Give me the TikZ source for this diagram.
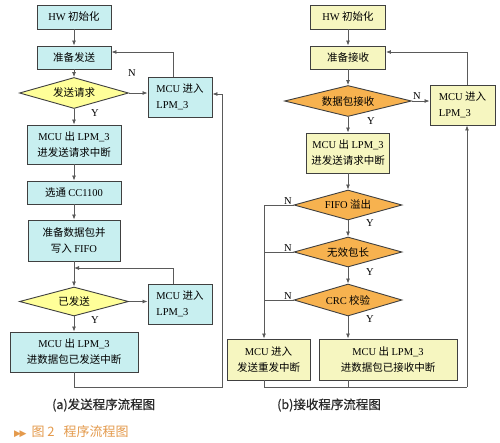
\documentclass[tikz,border=0pt]{standalone}
\usepackage{fontspec}
\setmainfont{Liberation Serif}
\newfontfamily\cjk{Noto Sans CJK SC}
\newfontfamily\cjkb[FakeBold=0.6]{Noto Sans CJK SC}
\newfontfamily\dejavu{DejaVu Sans}
\usetikzlibrary{shapes.geometric,arrows.meta}
\definecolor{cyanbox}{HTML}{C8EFF0}
\definecolor{yeldia}{HTML}{FFFF99}
\definecolor{yelbox}{HTML}{F6F6C0}
\definecolor{orgdia}{HTML}{F7B24F}
\definecolor{edgec}{HTML}{404040}
\definecolor{wirec}{HTML}{5A5A5A}
\definecolor{capor}{HTML}{E49A4C}
\definecolor{captx}{HTML}{2A2A2A}
\newcommand\en[1]{{\rmfamily #1}}
\tikzset{
  base/.style={draw=edgec, line width=0.9pt, inner sep=1pt, text=black,
    font=\cjk\fontsize{10.5}{16}\selectfont, align=center},
  boxa/.style={base, rectangle, fill=cyanbox},
  boxb/.style={base, rectangle, fill=yelbox},
  diaa/.style={base, diamond, aspect=4, inner sep=0pt, fill=yeldia},
  diab/.style={base, diamond, aspect=4, inner sep=0pt, fill=orgdia},
  wire/.style={draw=wirec, line width=0.8pt},
  arr/.style={wire, -{Latex[length=5pt,width=4pt]}},
  lab/.style={font=\rmfamily\fontsize{10.5}{12}\selectfont, inner sep=0pt, text=black},
  capt/.style={font=\cjkb\fontsize{12.5}{14}\selectfont, inner sep=0pt, text=captx},
}
\begin{document}
\begin{tikzpicture}[x=1pt,y=-1pt]
\useasboundingbox[fill=white] (0,0) rectangle (500,442);
% ---------- left chart ----------
\node[boxa, minimum width=74pt, minimum height=24pt] (a1) at (74,17) {\en{HW} 初始化};
\node[boxa, minimum width=74pt, minimum height=23pt] (a2) at (74,57.5) {准备发送};
\node[diaa, minimum width=109pt, minimum height=31pt] (a3) at (74,93) {发送请求};
\node[boxa, minimum width=64pt, minimum height=40pt, align=left] (a4) at (180,97) {\en{MCU} 进入\\\en{LPM\_3}};
\node[boxa, minimum width=94pt, minimum height=39pt] (a5) at (74,144.5) {\en{MCU} 出 \en{LPM\_3}\\进发送请求中断};
\node[boxa, minimum width=94pt, minimum height=23pt] (a6) at (74,192.5) {选通 \en{CC1100}};
\node[boxa, minimum width=92pt, minimum height=41pt] (a7) at (74,240.5) {准备数据包并\\写入 \en{FIFO}};
\node[diaa, minimum width=109pt, minimum height=29pt] (a8) at (74,301.5) {已发送};
\node[boxa, minimum width=64pt, minimum height=40pt, align=left] (a9) at (180,304) {\en{MCU} 进入\\\en{LPM\_3}};
\node[boxa, minimum width=128pt, minimum height=40pt] (a10) at (74,352) {\en{MCU} 出 \en{LPM\_3}\\进数据包已发送中断};
\coordinate (ja) at (74,268);
\coordinate (ca) at (222,387);
\draw[arr] (a1) -- (a2);
\draw[arr] (a2) -- (a3);
\draw[arr] (a3) -- (a5);
\draw[arr] (a5) -- (a6);
\draw[arr] (a6) -- (a7);
\draw[arr] (a7) -- (a8);
\draw[arr] (a8) -- (a10);
\draw[arr] (a3.east) -- (a3.east -| a4.west);
\draw[arr] ([xshift=-7pt]a4.north) |- ([yshift=5.5pt]a2.east);
\draw[arr] (a8.east) -- (a8.east -| a9.west);
\draw[arr] ([xshift=-7pt]a9.north) |- (ja);
\draw[arr] (a10.south) |- (ca) |- ([yshift=3pt]a4.east);
\node[lab] (na1) at (132,73) {N};
\node[lab] (ya1) at (95,113) {Y};
\node[lab] (ya2) at (95,320) {Y};
% ---------- right chart ----------
\node[boxb, minimum width=75pt, minimum height=24pt] (b1) at (348,17) {\en{HW} 初始化};
\node[boxb, minimum width=75pt, minimum height=23pt] (b2) at (348,57.5) {准备接收};
\node[diab, minimum width=127pt, minimum height=31pt] (b3) at (348,101) {数据包接收};
\node[boxb, minimum width=65pt, minimum height=40pt, align=left] (b4) at (462.5,105) {\en{MCU} 进入\\\en{LPM\_3}};
\node[boxb, minimum width=83pt, minimum height=40pt] (b5) at (348,153) {\en{MCU} 出 \en{LPM\_3}\\进发送请求中断};
\node[diab, minimum width=108pt, minimum height=30pt] (b6) at (348,205) {\en{FIFO} 溢出};
\node[diab, minimum width=108pt, minimum height=30pt] (b7) at (348,252) {无效包长};
\node[diab, minimum width=108pt, minimum height=32pt] (b8) at (348,300) {\en{CRC} 校验};
\node[boxb, minimum width=138pt, minimum height=41pt] (b9) at (388,359.5) {\en{MCU} 出 \en{LPM\_3}\\进数据包已接收中断};
\node[boxb, minimum width=83pt, minimum height=41pt] (b10) at (268.5,359.5) {\en{MCU} 进入\\发送重发中断};
\coordinate (lx) at (264,0);
\coordinate (cb) at (467,387);
\draw[arr] (b1) -- (b2);
\draw[arr] (b2) -- (b3);
\draw[arr] (b3) -- (b5);
\draw[arr] (b5) -- (b6);
\draw[arr] (b6) -- (b7);
\draw[arr] (b7) -- (b8);
\draw[arr] (b8.south) -- (b8.south |- b9.north);
\draw[arr] (b3.east) -- (b3.east -| b4.west);
\draw[arr] ([xshift=4.5pt]b4.north) |- ([yshift=5.5pt]b2.east);
\draw[arr] (b6.west) -| (b10.north -| lx);
\draw[wire] (b7.west) -- (b7.west -| lx);
\draw[wire] (b8.west) -- (b8.west -| lx);
\draw[wire] (b10.south -| lx) |- (cb);
\draw[wire] (b8.south |- b9.south) -- (b8.south |- cb);
\draw[arr] (cb) -- ([xshift=4.5pt]b4.south);
\node[lab] (nb1) at (417,96) {N};
\node[lab] (nb2) at (288,201) {N};
\node[lab] (nb3) at (288,248) {N};
\node[lab] (nb4) at (288,296) {N};
\node[lab] (yb1) at (371,121) {Y};
\node[lab] (yb2) at (370,223) {Y};
\node[lab] (yb3) at (370,272) {Y};
\node[lab] (yb4) at (370,319) {Y};
% ---------- captions ----------
\node[capt, anchor=west] (capa) at (52,405) {(a)发送程序流程图};
\node[capt, anchor=west] (capb) at (277,405) {(b)接收程序流程图};
\node[capt, anchor=west, text=capor, font=\cjk\fontsize{13}{14}\selectfont] (fig) at (14,432) {{\dejavu\fontsize{9}{10}\selectfont ▶\kern-1.5pt▶}\hspace{5pt}图 2\hspace{9pt}程序流程图};
\end{tikzpicture}
\end{document}
